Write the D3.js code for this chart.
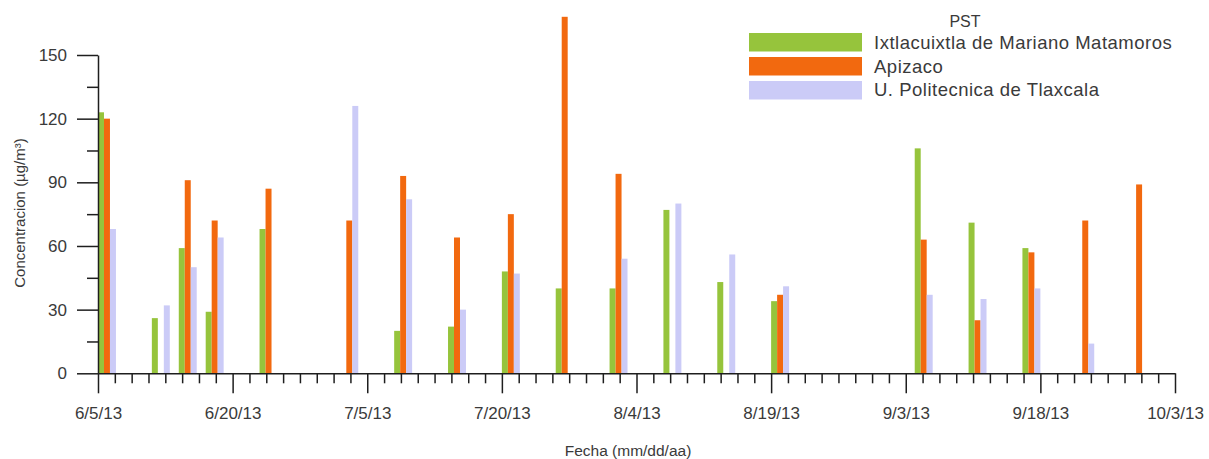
<!DOCTYPE html>
<html>
<head>
<meta charset="utf-8">
<script src="https://cdn.jsdelivr.net/npm/d3@7"></script>
<style>
  html, body { margin: 0; padding: 0; background: #fff; }
  svg { display: block; font-family: "Liberation Sans", Arial, sans-serif; }
</style>
</head>
<body>
<svg id="chart" width="1209" height="459"></svg>
<script>
// Sampling dates (mm/dd/yy) and PST concentrations (µg/m³) per station
const dates = ["6/5/13", "6/11/13", "6/14/13", "6/17/13", "6/23/13", "7/2/13", "7/8/13",
  "7/14/13", "7/20/13", "7/26/13", "8/1/13", "8/7/13", "8/13/13", "8/19/13",
  "9/4/13", "9/10/13", "9/16/13", "9/22/13", "9/28/13"];
const ixtlacuixtla = [123, 26, 59, 29, 68, null, 20, 22, 48, 40, 40, 77, 43, 34, 106, 71, 59, null, null];
const apizaco      = [120, null, 91, 72, 87, 72, 93, 64, 75, 168, 94, null, null, 37, 63, 25, 57, 72, 89];
const politecnica  = [68, 32, 50, 64, null, 126, 82, 30, 47, null, 54, 80, 56, 41, 37, 35, 40, 14, null];

const seriesNames = ["Ixtlacuixtla de Mariano Matamoros", "Apizaco", "U. Politecnica de Tlaxcala"];
const seriesColors = ["#96c43c", "#f2690f", "#cbcbf7"];
const xTickLabels = ["6/5/13", "6/20/13", "7/5/13", "7/20/13", "8/4/13", "8/19/13", "9/3/13", "9/18/13", "10/3/13"];
const yTickValues = [0, 30, 60, 90, 120, 150];

const parse = d3.timeParse("%-m/%-d/%y");
const DAY = 864e5;
const series = [ixtlacuixtla, apizaco, politecnica];

const svg = d3.select("#chart");
const x = d3.scaleTime()
  .domain([parse(xTickLabels[0]), parse(xTickLabels[xTickLabels.length - 1])])
  .range([98, 1175]);
const y = d3.scaleLinear().domain([0, 150]).range([373.3, 55]);

const ink = "#1e1e1e";
const textColor = "#3a3a3a";

// bars: each station occupies two thirds of a day, side by side from the sampling date
const barSpan = DAY * 2 / 3;
series.forEach((vals, s) => {
  svg.append("g").selectAll("rect")
    .data(vals.map((v, i) => ({ v, d: parse(dates[i]) })).filter(e => e.v != null))
    .join("rect")
    .attr("x", e => x(new Date(+e.d + s * barSpan)))
    .attr("width", e => x(new Date(+e.d + (s + 1) * barSpan)) - x(new Date(+e.d + s * barSpan)))
    .attr("y", e => y(e.v))
    .attr("height", e => y(0) - y(e.v))
    .attr("fill", seriesColors[s]);
});

// y axis: labelled ticks every 30, minor ticks in between
const yAxis = svg.append("g").attr("transform", "translate(98,0)");
yAxis.call(d3.axisLeft(y).tickValues(yTickValues).tickSize(21).tickPadding(10).tickSizeOuter(0));
yAxis.append("g").call(d3.axisLeft(y).tickValues(d3.range(15, 150, 30)).tickSize(11).tickFormat("").tickSizeOuter(0))
  .select(".domain").remove();

// x axis: labelled ticks every 15 days, 7 minor ticks between each pair
const xMajor = xTickLabels.map(parse);
const x0 = +xMajor[0];
const xMinor = d3.range(0, 65).filter(i => i % 8 !== 0).map(i => new Date(x0 + i * 15 / 8 * DAY));
const xAxis = svg.append("g").attr("transform", "translate(0,373.3)");
xAxis.call(d3.axisBottom(x).tickValues(xMajor).tickSize(20).tickPadding(14)
  .tickFormat((d, i) => xTickLabels[i]).tickSizeOuter(0));
xAxis.append("g").call(d3.axisBottom(x).tickValues(xMinor).tickSize(10).tickFormat("").tickSizeOuter(0))
  .select(".domain").remove();

svg.selectAll(".domain, .tick line").attr("stroke", ink).attr("stroke-width", 1.5);
svg.selectAll(".tick text").attr("fill", textColor).attr("font-size", 17)
  .attr("font-family", "'Liberation Sans', Arial, sans-serif");

// axis titles
svg.append("text")
  .attr("transform", "translate(25,213) rotate(-90)")
  .attr("text-anchor", "middle")
  .attr("font-size", 15).attr("fill", textColor)
  .text("Concentracion (µg/m³)");
svg.append("text")
  .attr("x", 628).attr("y", 456)
  .attr("text-anchor", "middle")
  .attr("font-size", 15.5).attr("fill", textColor)
  .text("Fecha (mm/dd/aa)");

// legend
const legend = svg.append("g");
legend.append("text").attr("x", 965).attr("y", 27).attr("text-anchor", "middle")
  .attr("font-size", 16).attr("fill", textColor).text("PST");
seriesNames.forEach((name, i) => {
  legend.append("rect").attr("x", 749).attr("y", 33 + i * 24).attr("width", 113).attr("height", 18.5)
    .attr("fill", seriesColors[i]);
  legend.append("text").attr("x", 874).attr("y", 49 + i * 23.5)
    .attr("font-size", 18.5).attr("fill", textColor).attr("letter-spacing", 0.5).text(name);
});
</script>
</body>
</html>
